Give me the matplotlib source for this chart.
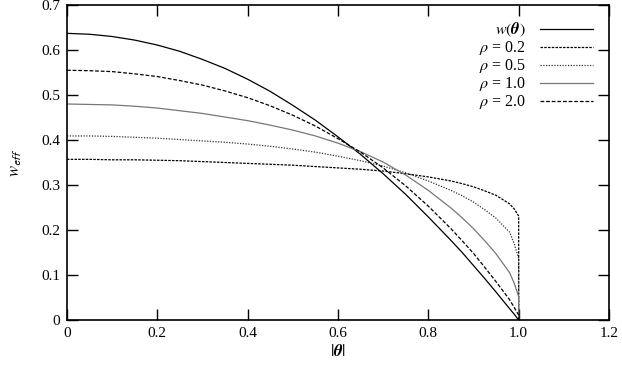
import matplotlib
matplotlib.use('Agg')
import matplotlib.pyplot as plt

plt.rcParams['font.family'] = 'Liberation Serif'
plt.rcParams['mathtext.fontset'] = 'stix'

# values
theta = [0, 0.05, 0.1, 0.15, 0.2, 0.25, 0.3, 0.35, 0.4, 0.45, 0.5, 0.55, 0.6, 0.65,
         0.7, 0.75, 0.8, 0.85, 0.875, 0.9, 0.925, 0.95, 0.98, 0.99, 1.0]
w = [0.637, 0.635, 0.630, 0.622, 0.611, 0.597, 0.579, 0.559, 0.535, 0.508, 0.477,
     0.444, 0.407, 0.368, 0.325, 0.279, 0.229, 0.177, 0.150, 0.121, 0.092, 0.062,
     0.025, 0.013, 0.0]
rho_02 = [0.357, 0.357, 0.356, 0.356, 0.355, 0.354, 0.352, 0.350, 0.348, 0.346, 0.344,
          0.341, 0.338, 0.335, 0.331, 0.325, 0.318, 0.309, 0.303, 0.296, 0.287, 0.277,
          0.258, 0.247, 0.231]
rho_05 = [0.409, 0.409, 0.408, 0.406, 0.404, 0.401, 0.398, 0.395, 0.391, 0.386, 0.380,
          0.373, 0.364, 0.354, 0.342, 0.327, 0.309, 0.288, 0.276, 0.262, 0.245, 0.226,
          0.195, 0.170, 0.137]
rho_10 = [0.480, 0.479, 0.478, 0.475, 0.471, 0.465, 0.459, 0.451, 0.443, 0.433, 0.422,
          0.409, 0.393, 0.374, 0.351, 0.322, 0.288, 0.249, 0.227, 0.203, 0.176, 0.147,
          0.105, 0.082, 0.052]
rho_20 = [0.555, 0.554, 0.552, 0.547, 0.541, 0.532, 0.522, 0.509, 0.494, 0.476, 0.455,
          0.431, 0.403, 0.373, 0.338, 0.298, 0.253, 0.203, 0.176, 0.148, 0.117, 0.085,
          0.045, 0.028, 0.011]

series = [
    (w, r'$w(\mathbfit{\theta})$', 'black', '-'),
    (rho_02, r'$\rho$ = 0.2', 'black', (0, (2, 1))),
    (rho_05, r'$\rho$ = 0.5', '#333333', (0, (1, 1.2))),
    (rho_10, r'$\rho$ = 1.0', '#777777', '-'),
    (rho_20, r'$\rho$ = 2.0', 'black', (0, (3, 1.5))),
]

fig = plt.figure(figsize=(6.22, 3.73), dpi=100)
ax = fig.add_axes([67 / 622, 53 / 373, 542 / 622, 315 / 373])

for vals, label, color, ls in series:
    # curves drop straight to zero at |theta| = 1
    ax.plot(theta + [1.0], vals + [0.0], color=color, linestyle=ls, lw=0.9, label=label)

ax.set_xlim(0, 1.2)
ax.set_ylim(0, 0.7)
ax.set_xticks([0, 0.2, 0.4, 0.6, 0.8, 1.0, 1.2])
ax.set_xticklabels(['0', '0.2', '0.4', '0.6', '0.8', '1.0', '1.2'])
ax.set_yticks([0, 0.1, 0.2, 0.3, 0.4, 0.5, 0.6, 0.7])
ax.set_yticklabels(['0', '0.1', '0.2', '0.3', '0.4', '0.5', '0.6', '0.7'])
ax.tick_params(direction='in', length=8, width=1, top=True, right=True,
               labelsize=11, pad=5)
for s in ax.spines.values():
    s.set_linewidth(1.2)

ax.set_xlabel(r'$|\mathbfit{\theta}|$', fontsize=12, labelpad=3)
ax.set_ylabel(r'$w_{\mathsf{eff}}$', fontsize=12, labelpad=12)

ax.legend(loc='upper right', frameon=False, markerfirst=False, fontsize=11.5,
          handlelength=3.3, labelspacing=0.0, handletextpad=0.9,
          borderaxespad=0.8, borderpad=0.2)

fig.savefig('out.png', dpi=100)
